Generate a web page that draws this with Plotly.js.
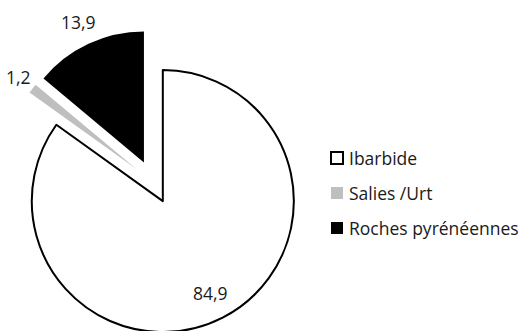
<!DOCTYPE html>
<html>
<head>
<meta charset="utf-8">
<script src="https://cdn.plot.ly/plotly-3.0.1.min.js"></script>
<style>
html, body { margin: 0; padding: 0; overflow: hidden; background: #fff; }
#chart { width: 521px; height: 360px; }
</style>
</head>
<body>
<div id="chart"></div>
<script>
const categories = ['Ibarbide', 'Salies /Urt', 'Roches pyrénéennes'];
const values = [84.9, 1.2, 13.9];
const colors = ['#ffffff', '#bfbfbf', '#000000'];
const outlineColors = ['#000000', '#bfbfbf', '#000000'];
const outlineWidths = [2, 0, 0];

const W = 521, H = 360;
const FONT = 'Open Sans, sans-serif';
const TEXTCOL = '#1a1a1a';
const PULL = 0.164;

// pie box in pixels
const boxX0 = 0.5, boxX1 = 305.5, boxY0 = 29.5, boxY1 = 334.5;

const trace = {
  type: 'pie',
  labels: categories,
  values: values,
  sort: false,
  direction: 'clockwise',
  rotation: 0,
  pull: PULL,
  marker: { colors: colors, line: { color: outlineColors, width: outlineWidths } },
  textinfo: 'none',
  domain: { x: [boxX0 / W, boxX1 / W], y: [1 - boxY1 / H, 1 - boxY0 / H] },
  showlegend: false,
  hoverinfo: 'label+value'
};

const annotations = [];
const shapes = [];

// value labels placed along each slice's bisector (Excel-like placement)
const cx = (boxX0 + boxX1) / 2, cy = (boxY0 + boxY1) / 2;
const R = Math.min(boxX1 - boxX0, boxY1 - boxY0) / (2 + 2 * PULL);
const labelRadius = [0.79, 1.14, 1.18];
const total = values.reduce((a, b) => a + b, 0);
let cum = 0;
values.forEach((v, i) => {
  const th = (cum + v / 2) / total * 2 * Math.PI;
  cum += v;
  const pcx = cx + PULL * R * Math.sin(th), pcy = cy - PULL * R * Math.cos(th);
  const px = pcx + labelRadius[i] * R * Math.sin(th);
  const py = pcy - labelRadius[i] * R * Math.cos(th);
  annotations.push({
    xref: 'paper', yref: 'paper', x: px / W, y: 1 - py / H,
    xanchor: 'center', yanchor: 'middle', showarrow: false,
    text: v.toFixed(1).replace('.', ','),
    font: { family: FONT, size: 17.5, color: TEXTCOL }
  });
});

// custom legend built from the category arrays
const legendX = 347, legendY0 = 158, legendStep = 35, box = 12;
categories.forEach((c, i) => {
  const ly = legendY0 + i * legendStep;
  annotations.push({
    xref: 'paper', yref: 'paper',
    x: legendX / W, y: 1 - ly / H,
    xanchor: 'left', yanchor: 'middle',
    text: c, showarrow: false,
    font: { family: FONT, size: 17.5, color: TEXTCOL }
  });
  shapes.push({
    type: 'rect', xref: 'paper', yref: 'paper',
    x0: (legendX - 16) / W, x1: (legendX - 16 + box) / W,
    y0: 1 - (ly + box / 2) / H, y1: 1 - (ly - box / 2) / H,
    fillcolor: colors[i],
    line: { color: outlineColors[i], width: i === 0 ? 2 : 0 }
  });
});

const layout = {
  width: W, height: H,
  margin: { l: 0, r: 0, t: 0, b: 0 },
  paper_bgcolor: '#ffffff',
  separators: ', ',
  font: { family: FONT, size: 17.5, color: TEXTCOL },
  annotations: annotations,
  shapes: shapes
};

Plotly.newPlot('chart', [trace], layout, { displayModeBar: false, staticPlot: true });
</script>
</body>
</html>
